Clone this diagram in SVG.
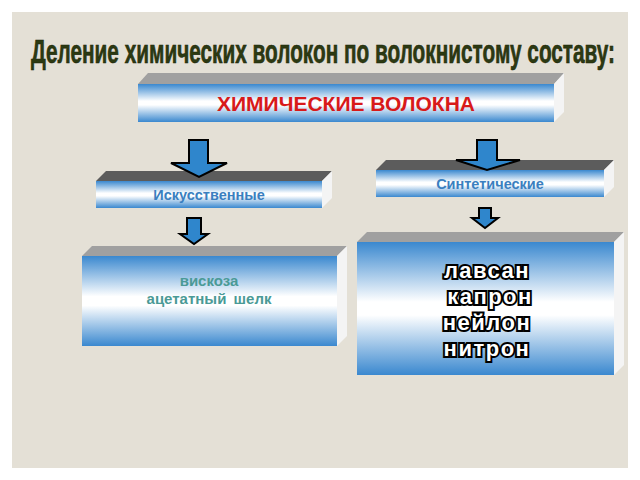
<svg xmlns="http://www.w3.org/2000/svg" width="640" height="480" viewBox="0 0 640 480">
<defs>
<linearGradient id="g" x1="0" y1="0" x2="0" y2="1">
<stop offset="0" stop-color="#3a88cf"/><stop offset="0.45" stop-color="#ffffff"/><stop offset="0.55" stop-color="#ffffff"/><stop offset="1" stop-color="#3a88cf"/>
</linearGradient>
</defs>
<style>
.f{fill:url(#g)}.t{fill:#5c5c5c}.t2{fill:#a0a0a0}.s{fill:#f4f4f4}
.ar{fill:#2f86cc;stroke:#000;stroke-width:2;stroke-linejoin:miter}
text{font-family:"Liberation Sans",Arial,sans-serif;font-weight:bold;text-anchor:middle}
</style>
<rect width="640" height="480" fill="#fff"/>
<rect x="12" y="12" width="616" height="456" fill="#e4e0d6"/>
<text x="323" y="63" font-family="'Open Sans',sans-serif" font-size="33" fill="#2c3a12" stroke="#1a2208" stroke-width="0.6" transform="translate(323 0) scale(0.63 1) translate(-323 0)">Деление химических волокон по волокнистому составу:</text>
<g id="n1">
<polygon class="t2" points="138,84 148,73 564,73 554,84"/>
<polygon class="s" points="554,84 564,73 564,112 554,122"/>
<rect class="f" x="138" y="84" width="416" height="38"/>
<text x="346" y="111" font-size="21" fill="#d81a1a">ХИМИЧЕСКИЕ ВОЛОКНА</text>
</g>
<g id="n2">
<polygon class="t" points="96,181 106,171 332,171 322,181"/>
<polygon class="s" points="322,181 332,171 332,198 322,208"/>
<rect class="f" x="96" y="181" width="226" height="27"/>
<text x="209" y="200" font-size="14.5" fill="#3a7fc0">Искусственные</text>
</g>
<g id="n3">
<polygon class="t" points="376,170 386,160 614,160 604,170"/>
<polygon class="s" points="604,170 614,160 614,187 604,197"/>
<rect class="f" x="376" y="170" width="228" height="27"/>
<text x="490" y="189" font-size="14.5" fill="#3a7fc0">Синтетические</text>
</g>
<g id="n4">
<polygon class="t2" points="82,256 92,246 347,246 337,256"/>
<polygon class="s" points="337,256 347,246 347,336 337,346"/>
<rect class="f" x="82" y="256" width="255" height="90"/>
<text x="209" y="286" font-size="15" fill="#4a9a96">вискоза</text>
<text x="209" y="304" font-size="15" fill="#4a9a96" word-spacing="3">ацетатный шелк</text>
</g>
<g id="n5">
<polygon class="t2" points="357,242 367,232 624,232 614,242"/>
<polygon class="s" points="614,242 624,232 624,365 614,375"/>
<rect class="f" x="357" y="242" width="257" height="133"/>
<g font-size="22" fill="#fff" stroke="#000" stroke-width="4" paint-order="stroke" letter-spacing="1.5">
<text x="487" y="278">лавсан</text>
<text x="490" y="304">капрон</text>
<text x="487" y="330">нейлон</text>
<text x="487" y="356">нитрон</text>
</g>
</g>
<g id="connectors">
<path class="ar" d="M189,140H208V163H227L199,177L171,163H189Z"/>
<path class="ar" d="M477,140H497V160H520L487,170L456,160H477Z"/>
<path class="ar" d="M187,218H201V234H208L194,244L180,234H187Z"/>
<path class="ar" d="M479,208H491V218H498L485,228L472,218H479Z"/>
</g>
</svg>
